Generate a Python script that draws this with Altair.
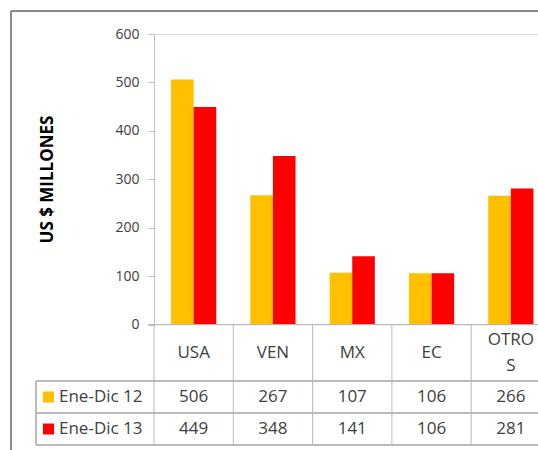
import altair as alt
import pandas as pd

# Values (US $ millions) by destination
categories = ["USA", "VEN", "MX", "EC", "OTROS"]
category_labels = ["USA", "VEN", "MX", "EC", "OTRO\nS"]
series = ["Ene-Dic 12", "Ene-Dic 13"]
ene_dic_12 = [506, 267, 107, 106, 266]
ene_dic_13 = [449, 348, 141, 106, 281]
colors = ["#FFC000", "#FF0000"]
y_ticks = [0, 100, 200, 300, 400, 500, 600]

FONT = "Open Sans"
TEXT = "#404040"
GRID = "#B8B8B8"
FRAME = "#8A8A8A"

W, H = 384, 290.5

long = pd.DataFrame(
    [{"category": c, "series": series[0], "value": v} for c, v in zip(categories, ene_dic_12)]
    + [{"category": c, "series": series[1], "value": v} for c, v in zip(categories, ene_dic_13)]
)
cats = pd.DataFrame({"category": categories, "label": category_labels})
cats["wrapped"] = cats["label"].str.contains("\n")
legend_df = pd.DataFrame({"series": series})

x_scale = alt.Scale(domain=categories, range=[0, 396.5], paddingInner=0, paddingOuter=0)
y_scale = alt.Scale(domain=[0, 600])
color_scale = alt.Scale(domain=series, range=colors)

bars = alt.Chart(long).mark_bar().encode(
    x=alt.X("category:N", scale=x_scale, axis=None),
    xOffset=alt.XOffset("series:N", scale=alt.Scale(domain=series, paddingInner=0, paddingOuter=0.754)),
    y=alt.Y(
        "value:Q",
        scale=y_scale,
        axis=alt.Axis(
            values=y_ticks,
            grid=False,
            domainColor="#BFBFBF",
            tickColor="#BFBFBF",
            tickSize=6,
            labelFont=FONT,
            labelFontSize=14,
            labelColor=TEXT,
            labelPadding=9,
            title="US $ MILLONES",
            titleFont=FONT,
            titleFontSize=17,
            titleFontWeight="bold",
            titleColor="#000000",
            titleAngle=270,
            titleX=-107,
            titleY=145,
            titleAlign="center",
            titleBaseline="middle",
        ),
    ),
    color=alt.Color("series:N", scale=color_scale, legend=None),
)

def hrule(y, x0, x1, color=GRID, width=1):
    return alt.Chart(cats).mark_rule(color=color, strokeWidth=width).encode(
        x=alt.value(x0), x2=alt.value(x1), y=alt.value(y)
    )

# Category axis line and data-table row lines
baseline = hrule(H, -6, W)
row_lines = [hrule(347, -118, W), hrule(379, -118, W), hrule(411, -118, W)]

# Column boundaries of the data table
col_lines = alt.Chart(cats).mark_rule(color=GRID).encode(
    x=alt.X("category:N", scale=x_scale, bandPosition=0, axis=None),
    y=alt.value(H),
    y2=alt.value(411),
)
left_edge = alt.Chart(cats).mark_rule(color=GRID).encode(
    x=alt.value(-118), y=alt.value(347), y2=alt.value(411)
)

# Category names (wrapped names start one half-line higher)
def cat_layer(wrapped, y):
    return alt.Chart(cats).transform_filter(
        alt.datum.wrapped if wrapped else ~alt.datum.wrapped
    ).mark_text(
        font=FONT, fontSize=17, color=TEXT, baseline="middle", lineBreak="\n", lineHeight=26
    ).encode(
        x=alt.X("category:N", scale=x_scale, axis=None),
        y=alt.value(y),
        text="label:N",
    )

cat_text = [cat_layer(False, 318.75), cat_layer(True, 305.75)]

# Values per series in the table rows, with their legend keys
value_layers = []
legend_layers = []
for s, row_y in zip(series, [363, 395]):
    value_layers.append(
        alt.Chart(long).transform_filter(alt.datum.series == s).mark_text(
            font=FONT, fontSize=17, color=TEXT, baseline="middle"
        ).encode(
            x=alt.X("category:N", scale=x_scale, axis=None),
            y=alt.value(row_y),
            text="value:Q",
        )
    )
    legend_layers.append(
        alt.Chart(legend_df).transform_filter(alt.datum.series == s).mark_square(
            size=121, opacity=1
        ).encode(
            x=alt.value(-105.5),
            y=alt.value(row_y),
            color=alt.Color("series:N", scale=color_scale, legend=None),
        )
    )
    legend_layers.append(
        alt.Chart(legend_df).transform_filter(alt.datum.series == s).mark_text(
            font=FONT, fontSize=17, color=TEXT, baseline="middle", align="left"
        ).encode(
            x=alt.value(-95),
            y=alt.value(row_y),
            text="series:N",
        )
    )

# Outer chart frame
frame_top = hrule(-23, -143, W, color=FRAME, width=2)
frame_left = alt.Chart(cats).mark_rule(color=FRAME, strokeWidth=2).encode(
    x=alt.value(-143), y=alt.value(-23), y2=alt.value(420)
)

chart = alt.layer(
    frame_top, frame_left,
    bars, baseline, *row_lines, col_lines, left_edge,
    *cat_text, *value_layers, *legend_layers,
).properties(
    width=W,
    height=H,
    autosize=alt.AutoSizeParams(type="none"),
    padding={"left": 154, "top": 34, "right": 0, "bottom": 125.5},
).configure_view(stroke=None).configure(background="white")

chart.save("out.html", embed_options={"renderer": "svg", "actions": False})
